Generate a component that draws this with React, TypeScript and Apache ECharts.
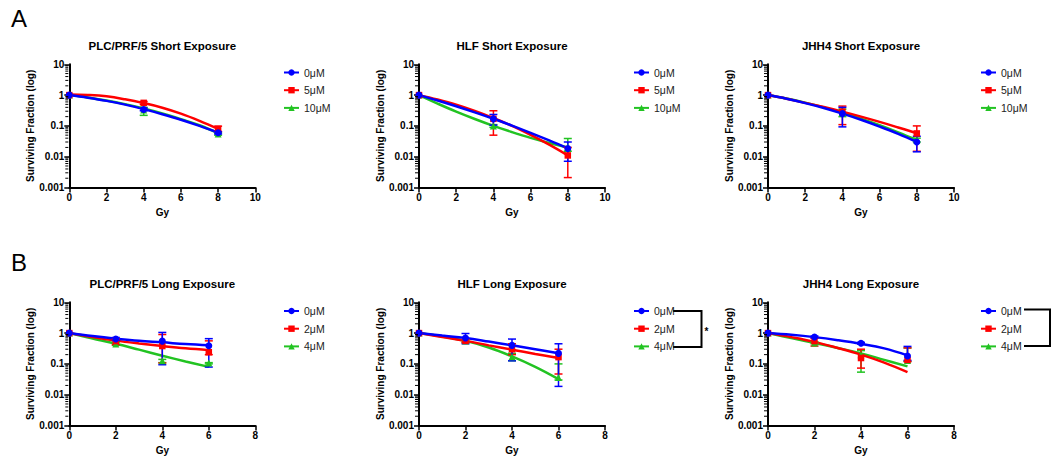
import React, { useEffect, useRef } from 'react';
import * as echarts from 'echarts';

const FONT = '"Liberation Sans", Arial, Helvetica, sans-serif';
const COLORS = ['#0000ff', '#ff0000', '#22c322'];
const SYMBOLS = ['circle', 'rect', 'triangle'];

const panelTitles = [
  'PLC/PRF/5 Short Exposure',
  'HLF Short Exposure',
  'JHH4 Short Exposure',
  'PLC/PRF/5 Long Exposure',
  'HLF Long Exposure',
  'JHH4 Long Exposure',
];
const shortLabels = ['0μM', '5μM', '10μM'];
const longLabels = ['0μM', '2μM', '4μM'];
const shortDoses = [0, 4, 8];
const longDoses = [0, 2, 4, 6];
const shortCurveDoses = [0, 1, 2, 3, 4, 5, 6, 7, 8];
const longCurveDoses = [0, 1, 2, 3, 4, 5, 6];
const shortXMax = 10;
const longXMax = 8;
const yTickLabels = ['0.001', '0.01', '0.1', '1', '10'];
const yDecades = [0.001, 0.01, 0.1, 1];
const minorMultipliers = [2, 3, 4, 5, 6, 7, 8, 9];
const xAxisName = 'Gy';
const yAxisName = 'Surviving Fraction (log)';
const rowLetters = ['A', 'B'];

// PLC/PRF/5 short exposure: rows = 0μM, 5μM, 10μM
const plcShortMean = [[1, 0.34, 0.06], [1, 0.56, 0.08], [1, 0.33, 0.055]];
const plcShortLow = [[1, 0.31, 0.055], [1, 0.5, 0.066], [1, 0.22, 0.05]];
const plcShortHigh = [[1, 0.38, 0.065], [1, 0.62, 0.098], [1, 0.4, 0.06]];
const plcShortCurve = [
  [1, 0.82, 0.65, 0.49, 0.35, 0.24, 0.159, 0.1, 0.06],
  [1.05, 1.01, 0.91, 0.73, 0.55, 0.39, 0.25, 0.146, 0.08],
  [1, 0.84, 0.67, 0.51, 0.37, 0.255, 0.165, 0.105, 0.058],
];

// HLF short exposure
const hlfShortMean = [[1, 0.17, 0.0185], [1, 0.17, 0.011], [1, 0.1, 0.02]];
const hlfShortLow = [[1, 0.106, 0.0071], [1, 0.05, 0.0021], [1, 0.09, 0.015]];
const hlfShortHigh = [[1, 0.235, 0.03], [1, 0.31, 0.02], [1, 0.11, 0.039]];
const hlfShortCurve = [
  [1, 0.67, 0.435, 0.275, 0.17, 0.102, 0.059, 0.0337, 0.0186],
  [1, 0.72, 0.49, 0.307, 0.18, 0.1, 0.051, 0.0246, 0.011],
  [1, 0.53, 0.29, 0.167, 0.1, 0.063, 0.041, 0.028, 0.02],
];

// JHH4 short exposure
const jhhShortMean = [[1, 0.25, 0.03], [1, 0.29, 0.057], [1, 0.27, 0.035]];
const jhhShortLow = [[1, 0.093, 0.0144], [1, 0.11, 0.015], [1, 0.2, 0.03]];
const jhhShortHigh = [[1, 0.4, 0.046], [1, 0.44, 0.1], [1, 0.35, 0.04]];
const jhhShortCurve = [
  [1, 0.76, 0.55, 0.38, 0.25, 0.158, 0.095, 0.055, 0.03],
  [1, 0.76, 0.56, 0.41, 0.29, 0.2, 0.135, 0.089, 0.058],
  [1, 0.77, 0.57, 0.4, 0.27, 0.173, 0.106, 0.062, 0.035],
];

// PLC/PRF/5 long exposure: rows = 0μM, 2μM, 4μM
const plcLongMean = [[1, 0.64, 0.55, 0.39], [1, 0.55, 0.38, 0.24], [1, 0.44, 0.126, 0.107]];
const plcLongLow = [[1, 0.57, 0.094, 0.079], [1, 0.42, 0.107, 0.2], [1, 0.4, 0.11, 0.1]];
const plcLongHigh = [[1, 0.72, 1.05, 0.66], [1, 0.65, 0.9, 0.56], [1, 0.5, 0.14, 0.11]];
const plcLongCurve = [
  [1, 0.8, 0.66, 0.56, 0.5, 0.44, 0.4],
  [1, 0.74, 0.57, 0.46, 0.38, 0.32, 0.28],
  [1, 0.67, 0.45, 0.29, 0.185, 0.12, 0.08],
];

// HLF long exposure
const hlfLongMean = [[1, 0.69, 0.4, 0.22], [1, 0.56, 0.3, 0.166], [1, 0.55, 0.17, 0.036]];
const hlfLongLow = [[1, 0.45, 0.126, 0.0186], [1, 0.5, 0.2, 0.047], [1, 0.5, 0.126, 0.03]];
const hlfLongHigh = [[1, 0.97, 0.64, 0.45], [1, 0.62, 0.45, 0.3], [1, 0.6, 0.22, 0.1]];
const hlfLongCurve = [
  [1, 0.83, 0.69, 0.53, 0.4, 0.3, 0.22],
  [1, 0.75, 0.56, 0.4, 0.29, 0.21, 0.155],
  [1, 0.77, 0.56, 0.34, 0.175, 0.08, 0.032],
];

// JHH4 long exposure
const jhhLongMean = [[1, 0.75, 0.47, 0.18], [1, 0.55, 0.155, 0.135], [1, 0.48, 0.2, 0.13]];
const jhhLongLow = [[1, 0.7, 0.44, 0.13], [1, 0.38, 0.073, 0.12], [1, 0.45, 0.054, 0.12]];
const jhhLongHigh = [[1, 0.8, 0.5, 0.37], [1, 0.68, 0.3, 0.33], [1, 0.52, 0.27, 0.33]];
const jhhLongCurve = [
  [1, 0.88, 0.74, 0.59, 0.45, 0.32, 0.19],
  [1, 0.74, 0.52, 0.33, 0.2, 0.11, 0.054],
  [1, 0.69, 0.48, 0.33, 0.22, 0.135, 0.083],
];

// layout (pixels)
const colLefts = [69.3, 419, 768];
const plotWidth = 186;
const rowTops = [64.3, 302.3];
const plotHeight = 123.2;
const legendLefts = [283, 633, 980];
const legendTops = [66.5, 305];
const titleYs = [45.7, 284.3];

type Panel = {
  title: string;
  labels: string[];
  doses: number[];
  curveDoses: number[];
  xMax: number;
  mean: number[][];
  low: number[][];
  high: number[][];
  curve: number[][];
};

const panels: Panel[] = [
  { title: panelTitles[0], labels: shortLabels, doses: shortDoses, curveDoses: shortCurveDoses, xMax: shortXMax, mean: plcShortMean, low: plcShortLow, high: plcShortHigh, curve: plcShortCurve },
  { title: panelTitles[1], labels: shortLabels, doses: shortDoses, curveDoses: shortCurveDoses, xMax: shortXMax, mean: hlfShortMean, low: hlfShortLow, high: hlfShortHigh, curve: hlfShortCurve },
  { title: panelTitles[2], labels: shortLabels, doses: shortDoses, curveDoses: shortCurveDoses, xMax: shortXMax, mean: jhhShortMean, low: jhhShortLow, high: jhhShortHigh, curve: jhhShortCurve },
  { title: panelTitles[3], labels: longLabels, doses: longDoses, curveDoses: longCurveDoses, xMax: longXMax, mean: plcLongMean, low: plcLongLow, high: plcLongHigh, curve: plcLongCurve },
  { title: panelTitles[4], labels: longLabels, doses: longDoses, curveDoses: longCurveDoses, xMax: longXMax, mean: hlfLongMean, low: hlfLongLow, high: hlfLongHigh, curve: hlfLongCurve },
  { title: panelTitles[5], labels: longLabels, doses: longDoses, curveDoses: longCurveDoses, xMax: longXMax, mean: jhhLongMean, low: jhhLongLow, high: jhhLongHigh, curve: jhhLongCurve },
];

const minorTickValues: number[] = [];
yDecades.forEach((d) => minorMultipliers.forEach((m) => minorTickValues.push(d * m)));

function buildOption() {
  const grid: any[] = [];
  const xAxis: any[] = [];
  const yAxis: any[] = [];
  const series: any[] = [];
  const graphic: any[] = [];
  const legends: any[] = [];

  panels.forEach((p, i) => {
    const row = Math.floor(i / 3);
    const col = i % 3;
    const left = colLefts[col];
    const top = rowTops[row];
    grid.push({ left, top, width: plotWidth, height: plotHeight, outerBoundsMode: 'none', containLabel: false });

    xAxis.push({
      gridIndex: i,
      type: 'value',
      min: 0,
      max: p.xMax,
      interval: 2,
      name: xAxisName,
      nameLocation: 'middle',
      nameGap: 20,
      nameTextStyle: { color: '#000', fontWeight: 'bold', fontSize: 10, fontFamily: FONT },
      axisLine: { show: true, onZero: false, lineStyle: { color: '#000', width: 2 } },
      axisTick: { show: true, length: 5, lineStyle: { color: '#000', width: 1.5 } },
      axisLabel: { color: '#000', fontWeight: 'bold', fontSize: 10, fontFamily: FONT, margin: 5 },
      splitLine: { show: false },
    });

    yAxis.push({
      gridIndex: i,
      type: 'log',
      logBase: 10,
      min: 0.001,
      max: 10,
      name: yAxisName,
      nameLocation: 'middle',
      nameGap: 32,
      nameTextStyle: { color: '#000', fontWeight: 'bold', fontSize: 10, fontFamily: FONT },
      axisLine: { show: true, onZero: false, lineStyle: { color: '#000', width: 2 } },
      axisTick: { show: true, length: 5, lineStyle: { color: '#000', width: 1.5 } },
      minorTick: { show: false },
      axisLabel: {
        color: '#000',
        fontWeight: 'bold',
        fontSize: 10,
        fontFamily: FONT,
        margin: 5,
        formatter: (v: number) => yTickLabels[Math.round(Math.log10(v)) + 3],
      },
      splitLine: { show: false },
      minorSplitLine: { show: false },
    });

    graphic.push({
      type: 'text',
      x: left + plotWidth / 2,
      y: titleYs[row],
      style: {
        text: p.title,
        fill: '#000',
        font: `bold 11.5px ${FONT}`,
        textAlign: 'center',
        textVerticalAlign: 'middle',
      },
    });

    legends.push({
      data: p.labels,
      orient: 'vertical',
      left: legendLefts[col],
      top: legendTops[row],
      padding: 0,
      itemWidth: 15,
      itemHeight: 8,
      itemGap: 5.7,
      selectedMode: false,
      textStyle: { color: '#222', fontSize: 10.5, fontFamily: FONT, lineHeight: 12 },
    });

    // minor log ticks on the y axis
    series.push({
      type: 'custom',
      xAxisIndex: i,
      yAxisIndex: i,
      data: minorTickValues.map((v) => [0, v]),
      encode: { x: 0, y: 1 },
      clip: false,
      silent: true,
      z: 5,
      renderItem: (params: any, api: any) => {
        const c = api.coord([0, api.value(1)]);
        return {
          type: 'line',
          shape: { x1: c[0] - 1, y1: c[1], x2: c[0] - 4, y2: c[1] },
          style: { stroke: '#000', lineWidth: 1 },
        };
      },
    });

    // fitted curves, drawn green -> red -> blue so blue is on top
    for (let g = p.labels.length - 1; g >= 0; g--) {
      series.push({
        type: 'line',
        name: p.labels[g],
        xAxisIndex: i,
        yAxisIndex: i,
        data: p.curveDoses.map((d, k) => [d, p.curve[g][k]]),
        smooth: 0.4,
        showSymbol: false,
        symbol: SYMBOLS[g],
        symbolSize: 7,
        lineStyle: { color: COLORS[g], width: 2.5 },
        itemStyle: { color: COLORS[g] },
        silent: true,
        z: 2,
      });
    }
    // error bars
    for (let g = p.labels.length - 1; g >= 0; g--) {
      const color = COLORS[g];
      series.push({
        type: 'custom',
        xAxisIndex: i,
        yAxisIndex: i,
        data: p.doses.map((d, k) => [d, p.low[g][k], p.high[g][k]]),
        encode: { x: 0, y: [1, 2] },
        silent: true,
        clip: false,
        z: 3,
        renderItem: (params: any, api: any) => {
          const x = api.value(0);
          const lo = api.value(1);
          const hi = api.value(2);
          if (!(hi > lo)) return { type: 'group', children: [] };
          const a = api.coord([x, lo]);
          const b = api.coord([x, hi]);
          const s = { stroke: color, lineWidth: 1.5 };
          return {
            type: 'group',
            children: [
              { type: 'line', shape: { x1: a[0], y1: a[1], x2: b[0], y2: b[1] }, style: s },
              { type: 'line', shape: { x1: a[0] - 4, y1: a[1], x2: a[0] + 4, y2: a[1] }, style: s },
              { type: 'line', shape: { x1: b[0] - 4, y1: b[1], x2: b[0] + 4, y2: b[1] }, style: s },
            ],
          };
        },
      });
    }
    // data points
    for (let g = p.labels.length - 1; g >= 0; g--) {
      series.push({
        type: 'scatter',
        xAxisIndex: i,
        yAxisIndex: i,
        data: p.doses.map((d, k) => [d, p.mean[g][k]]),
        symbol: SYMBOLS[g],
        symbolSize: g === 1 ? 6.5 : 7,
        itemStyle: { color: COLORS[g], opacity: 1 },
        silent: true,
        z: 4,
      });
    }
  });

  rowLetters.forEach((letter, r) => {
    graphic.push({
      type: 'text',
      x: 11,
      y: r === 0 ? 18 : 262,
      style: { text: letter, fill: '#000', font: `24px ${FONT}`, textVerticalAlign: 'middle' },
    });
  });

  // significance brackets (long exposure, HLF and JHH4)
  graphic.push({
    type: 'polyline',
    shape: { points: [[673, 311], [701.5, 311], [701.5, 347], [673, 347]] },
    style: { stroke: '#000', lineWidth: 2, fill: 'none' },
  });
  graphic.push({
    type: 'text',
    x: 706.5,
    y: 331,
    style: { text: '*', fill: '#000', font: `bold 10px ${FONT}`, textAlign: 'center', textVerticalAlign: 'middle' },
  });
  graphic.push({
    type: 'polyline',
    shape: { points: [[1024, 309.5], [1050, 309.5], [1050, 346], [1024, 346]] },
    style: { stroke: '#000', lineWidth: 2, fill: 'none' },
  });

  return {
    animation: false,
    backgroundColor: '#fff',
    textStyle: { fontFamily: FONT },
    grid,
    xAxis,
    yAxis,
    legend: legends,
    series,
    graphic,
  };
}

export default function App() {
  const ref = useRef<HTMLDivElement>(null);
  useEffect(() => {
    if (!ref.current) return;
    const chart = echarts.init(ref.current, undefined, { renderer: 'svg' });
    chart.setOption(buildOption() as any);
    return () => chart.dispose();
  }, []);
  return (
    <div
      ref={ref}
      style={{ position: 'absolute', left: 0, top: 0, width: 1051, height: 457, background: '#fff' }}
    />
  );
}
